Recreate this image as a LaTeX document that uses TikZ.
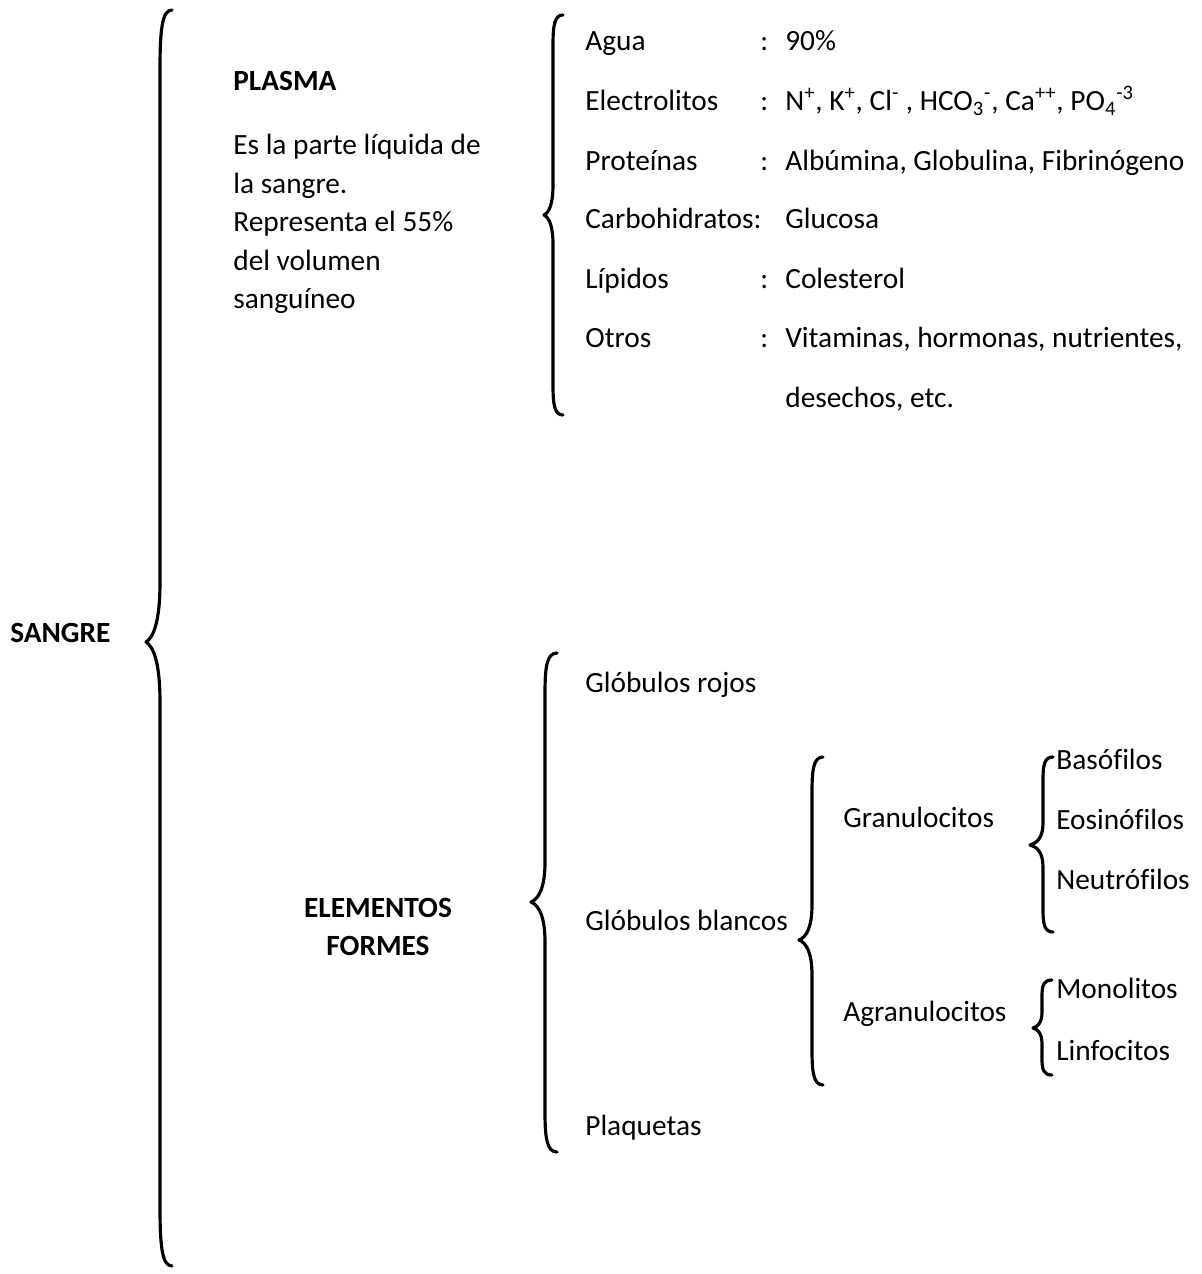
\documentclass[tikz,border=0pt]{standalone}
\usepackage{fontspec}
\setmainfont{Carlito}[Ligatures=CommonOff]

% left curly brace: x, top, mid, bottom, hook, tip, curve
\newcommand{\drawbrace}[7]{%
  \draw[brace] ({#1+#5},#2) .. controls ({#1+0.15*#5},#2) and (#1,{#2+0.35*#7}) .. (#1,{#2+#7})
    -- (#1,{#3-#7}) .. controls (#1,{#3-0.35*#7}) and ({#1-0.45*#6},{#3-0.08*#7}) .. ({#1-#6},#3)
    .. controls ({#1-0.45*#6},{#3+0.08*#7}) and (#1,{#3+0.35*#7}) .. (#1,{#3+#7})
    -- (#1,{#4-#7}) .. controls (#1,{#4-0.35*#7}) and ({#1+0.15*#5},#4) .. ({#1+#5},#4);
}

\begin{document}
\begin{tikzpicture}[
    x=0.02cm, y=-0.02cm,
    font=\fontsize{16.7pt}{21.9pt}\selectfont,
    item/.style={anchor=west, inner sep=0pt, text height=0.75em, text depth=0.1em},
    head/.style={item, font=\fontsize{16.7pt}{21.9pt}\selectfont\bfseries},
    brace/.style={line width=1.8pt, line cap=round, line join=round}
]
\useasboundingbox (0,0) rectangle (1201,1274);

%--------
% SANGRE and its brace
%--------
\node[head] (sangre) at (10,637) {SANGRE};
\drawbrace{160}{10}{642}{1266}{12}{14}{60}

%--------
% PLASMA
%--------
\node[head] (plasma) at (233,85) {PLASMA};
\node[anchor=west, inner sep=0pt, align=left] (plasmadesc) at (233,224)
    {Es la parte líquida de\\la sangre.\\Representa el 55\%\\del volumen\\sanguíneo};

% plasma brace
\drawbrace{553}{15}{215}{415}{10}{9}{30}
\node[item] (agua)    at (585,45)  {Agua};
\node[item] (electro) at (585,105) {Electrolitos};
\node[item] (prot)    at (585,165) {Proteínas};
\node[item] (carbo)   at (585,223) {Carbohidratos:};
\node[item] (lip)     at (585,283) {Lípidos};
\node[item] (otros)   at (585,342) {Otros};

\node[item] at (760,45)  {:};
\node[item] at (760,105) {:};
\node[item] at (760,165) {:};
\node[item] at (760,283) {:};
\node[item] at (760,342) {:};

\node[item] (aguav)    at (785,45)  {90\%};
\node[item] (electrov) at (785,105)
    {N\textsuperscript{+}, K\textsuperscript{+}, Cl\textsuperscript{-} , HCO\textsubscript{3}\textsuperscript{-}, Ca\textsuperscript{++}, PO\textsubscript{4}\textsuperscript{-3}};
\node[item] (protv)    at (785,165) {Albúmina, Globulina, Fibrinógeno};
\node[item] (carbov)   at (785,223) {Glucosa};
\node[item] (lipv)     at (785,283) {Colesterol};
\node[item] (otrosv)   at (785,342) {Vitaminas, hormonas, nutrientes,};
\node[item] (otrosv2)  at (785,402) {desechos, etc.};

%--------
% ELEMENTOS FORMES
%--------
\node[anchor=center, inner sep=0pt, align=center,
      font=\fontsize{16.7pt}{21.9pt}\selectfont\bfseries] (elementos) at (378,927)
    {ELEMENTOS\\FORMES};

\drawbrace{545}{653}{902}{1152}{12}{14}{40}
\node[item] (rojos)   at (585,687)  {Glóbulos rojos};
\node[item] (blancos) at (585,925)  {Glóbulos blancos};
\node[item] (plaq)    at (585,1130) {Plaquetas};

% globulos blancos brace
\drawbrace{812}{757}{940}{1085}{11}{13}{35}
\node[item] (gran)   at (843,822)  {Granulocitos};
\node[item] (agran)  at (843,1016) {Agranulocitos};

% granulocitos
\drawbrace{1043}{757}{845}{932}{10}{13}{22}
\node[item] (baso)   at (1056,764) {Basófilos};
\node[item] (eosi)   at (1056,824) {Eosinófilos};
\node[item] (neutro) at (1056,884) {Neutrófilos};

% agranulocitos
\drawbrace{1042}{980}{1028}{1075}{10}{9}{16}
\node[item] (mono)   at (1056,993)  {Monolitos};
\node[item] (linfo)  at (1056,1055) {Linfocitos};

\end{tikzpicture}
\end{document}
